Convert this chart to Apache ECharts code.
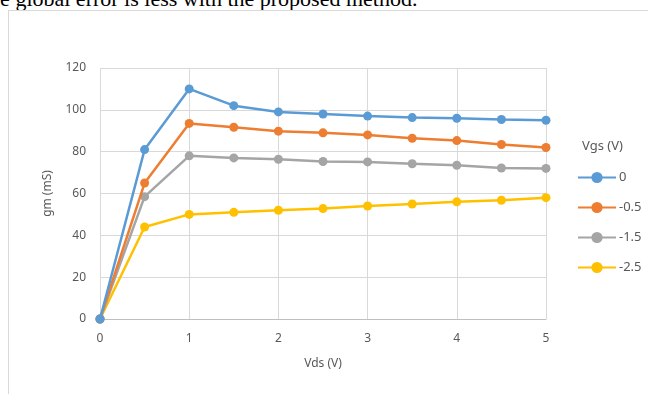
<!DOCTYPE html>
<html>
<head>
<meta charset="utf-8">
<script src="https://cdn.jsdelivr.net/npm/echarts@6/dist/echarts.min.js"></script>
<style>
html,body{margin:0;padding:0;background:#fff;overflow:hidden;}
#caption{position:absolute;left:-17px;top:-12px;font-family:"Liberation Serif","DejaVu Serif",serif;font-size:22px;line-height:1;color:#000;white-space:nowrap;}
#frame{position:absolute;left:8px;top:10px;width:700px;height:450px;border:1px solid #d9d9d9;box-sizing:border-box;}
#chart{position:absolute;left:0;top:0;width:648px;height:394px;}
</style>
</head>
<body>
<div id="caption">the global error is less with the proposed method.</div>
<div id="frame"></div>
<div id="chart"></div>
<script>
const vds = [0, 0.5, 1, 1.5, 2, 2.5, 3, 3.5, 4, 4.5, 5];
const seriesNames = ['0', '-0.5', '-1.5', '-2.5'];
const gm_0 = [0, 81, 110, 102, 99, 98, 97, 96.3, 96, 95.4, 95];
const gm_m05 = [0, 65, 93.5, 91.7, 89.8, 89, 88, 86.4, 85.3, 83.4, 82];
const gm_m15 = [0, 58.5, 78, 77, 76.4, 75.3, 75.1, 74.2, 73.5, 72.2, 72];
const gm_m25 = [0, 44, 50, 51, 52, 52.8, 54, 55, 56, 56.8, 58];
const colors = ['#5B9BD5', '#ED7D31', '#A5A5A5', '#FFC000'];
const allData = [gm_0, gm_m05, gm_m15, gm_m25];

const chart = echarts.init(document.getElementById('chart'), null, {renderer: 'canvas'});
const font = '"Noto Sans", "Liberation Sans", sans-serif';
const series = allData.map((d, i) => ({
  name: seriesNames[i],
  type: 'line',
  data: d.map((v, k) => [vds[k], v]),
  symbol: 'circle',
  symbolSize: 9,
  lineStyle: {width: 2.5, color: colors[i]},
  itemStyle: {color: colors[i]},
  z: 10 - i
}));
chart.setOption({
  animation: false,
  grid: {left: 100, right: 102, top: 68, bottom: 75},
  xAxis: {
    type: 'value', min: 0, max: 5, interval: 1,
    name: 'Vds (V)', nameLocation: 'middle', nameGap: 39,
    nameTextStyle: {color: '#595959', fontSize: 12, fontFamily: font},
    axisLine: {show: true, lineStyle: {color: '#BFBFBF', width: 1}},
    axisTick: {show: false},
    axisLabel: {color: '#595959', fontSize: 12, fontFamily: font, margin: 14},
    splitLine: {show: true, lineStyle: {color: '#D9D9D9', width: 1}}
  },
  yAxis: {
    type: 'value', min: 0, max: 120, interval: 20,
    name: 'gm (mS)', nameLocation: 'middle', nameGap: 46,
    nameTextStyle: {color: '#595959', fontSize: 12, fontFamily: font},
    axisLine: {show: false},
    axisTick: {show: false},
    axisLabel: {color: '#595959', fontSize: 12, fontFamily: font, margin: 14},
    splitLine: {show: true, lineStyle: {color: '#D9D9D9', width: 1}}
  },
  legend: {
    orient: 'vertical', left: 577, top: 171, itemGap: 17, padding: 0,
    itemWidth: 38, itemHeight: 14,
    textStyle: {color: '#595959', fontSize: 13, fontFamily: font, padding: [0, 0, 0, -2]},
    data: seriesNames
  },
  graphic: [{
    type: 'text', left: 582, top: 140,
    style: {text: 'Vgs (V)', fill: '#595959', font: '13px ' + font}
  }],
  series: series
});
</script>
</body>
</html>
